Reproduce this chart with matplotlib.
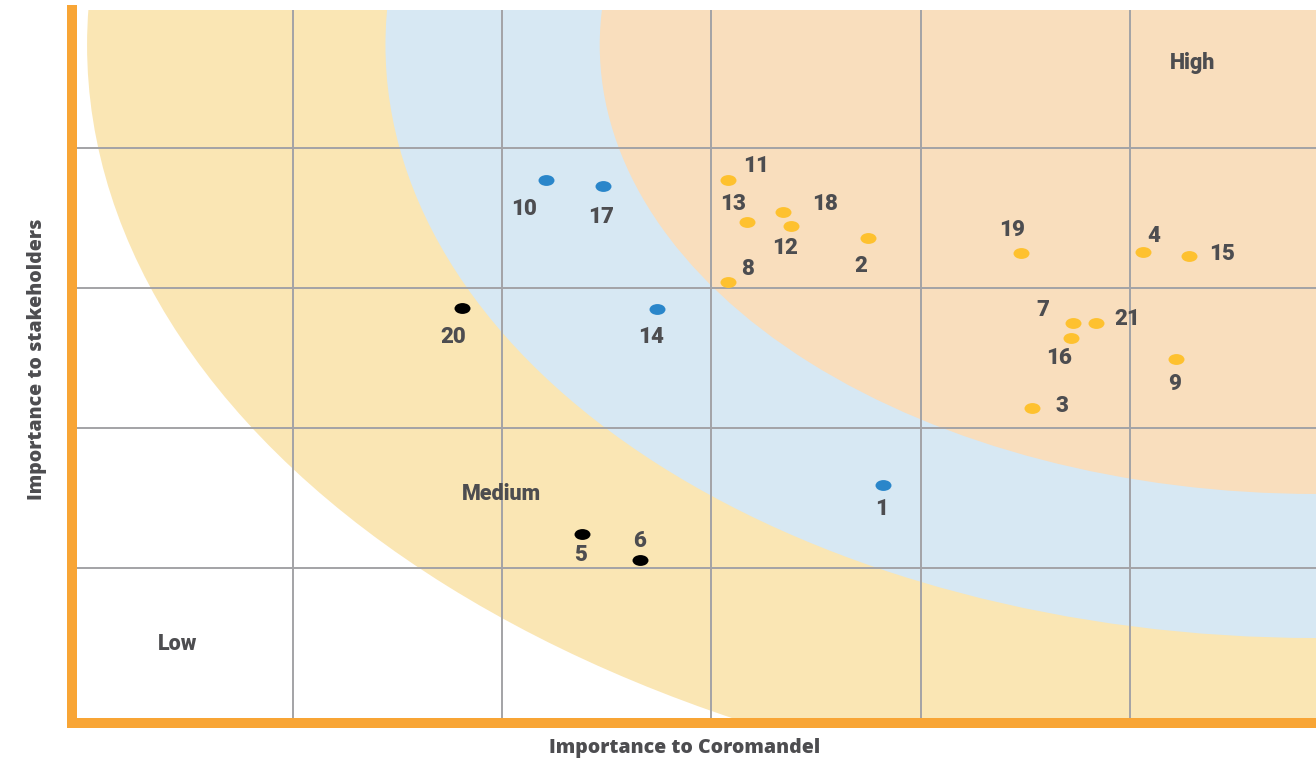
import matplotlib
matplotlib.use("Agg")
import matplotlib.pyplot as plt
from matplotlib.patches import Ellipse
from matplotlib.path import Path
from matplotlib.transforms import Affine2D

# ---- data ----
issue_ids = ["1", "2", "3", "4", "5", "6", "7", "8", "9", "10", "11",
             "12", "13", "14", "15", "16", "17", "18", "19", "20", "21"]
coromandel = [3.82, 3.75, 4.53, 5.06, 2.38, 2.66, 4.73, 3.08, 5.22, 2.21, 3.08,
              3.38, 3.17, 2.74, 5.28, 4.72, 2.48, 3.34, 4.48, 1.81, 4.84]
stakeholders = [1.59, 3.36, 2.14, 3.26, 1.24, 1.06, 2.75, 3.04, 2.49, 3.77, 3.77,
                3.44, 3.47, 2.85, 3.23, 2.64, 3.73, 3.54, 3.25, 2.86, 2.75]
groups = ["blue", "high", "high", "high", "black", "black", "high", "high", "high",
          "blue", "high", "high", "high", "blue", "high", "high", "blue", "high",
          "high", "black", "high"]
zone_names = ["High", "Medium", "Low"]

# label offsets in pixels (dx, dy) from each dot
label_offsets = {
    "1": (-1, -24), "2": (-8, -28), "3": (30, 2), "4": (11, 16), "5": (-1, -21),
    "6": (-1, 19), "7": (-31, 13), "8": (19, 13), "9": (-1, -25), "10": (-22, -29),
    "11": (28, 14), "12": (-6, -22), "13": (-14, 18), "14": (-6, -28), "15": (33, 2),
    "16": (-12, -20), "17": (-2, -31), "18": (42, 8), "19": (-9, 23), "20": (-9, -29),
    "21": (31, 4),
}

dot_colors = {"high": "#FEC12F", "blue": "#2A86CA", "black": "#000000"}
text_color = "#4D4D50"
orange = "#F8A535"

fig = plt.figure(figsize=(13.16, 7.6), dpi=100)
ax = fig.add_axes([72 / 1316, 1 - 723 / 760, 1 - 72 / 1316, (723 - 10) / 760])

x_lo, x_hi = -0.056, 5.889
y_lo, y_hi = -0.107, 4.986
ax.set_xlim(x_lo, x_hi)
ax.set_ylim(y_lo, y_hi)

# concentric bands, centre near the top-right corner
cx, cy = 5.889, 4.736
bands = [(5.873, 5.464, "#FAE6B4"), (4.447, 4.236, "#D7E8F3"), (3.423, 3.207, "#F9DEBD")]
for a, b, col in bands:
    ax.add_patch(Ellipse((cx, cy), 2 * a, 2 * b, facecolor=col, edgecolor="none", zorder=0))

# grid
ax.set_xticks([1, 2, 3, 4, 5])
ax.set_yticks([1, 2, 3, 4])
ax.set_axisbelow(True)
ax.grid(True, color="#A3A3A6", linewidth=1.4)
ax.tick_params(length=0, labelbottom=False, labelleft=False)

for s in ["top", "right"]:
    ax.spines[s].set_visible(False)
for s in ["left", "bottom"]:
    ax.spines[s].set_color(orange)
    ax.spines[s].set_linewidth(7.2)
    ax.spines[s].set_zorder(5)

# ellipse-shaped dot marker
oval = Path.unit_circle().transformed(Affine2D().scale(1, 0.68))

for key, col in dot_colors.items():
    xs = [x for x, g in zip(coromandel, groups) if g == key]
    ys = [y for y, g in zip(stakeholders, groups) if g == key]
    ax.plot(xs, ys, linestyle="none", marker=oval, markersize=11.5,
            markerfacecolor=col, markeredgewidth=0, zorder=4)

for name, x, y in zip(issue_ids, coromandel, stakeholders):
    dx, dy = label_offsets[name]
    ax.annotate(name, (x, y), xytext=(dx, dy), textcoords="offset pixels",
                ha="center", va="center", fontsize=16, fontweight="black",
                family="Roboto", color=text_color, zorder=6)

zone_pos = [(5.30, 4.61), (1.995, 1.53), (0.45, 0.46)]
for name, (x, y) in zip(zone_names, zone_pos):
    ax.text(x, y, name, ha="center", va="center", fontsize=15.5, fontweight="black",
            family="Roboto", color=text_color, zorder=6)

fig.text(685 / 1316, 1 - 748 / 760, "Importance to Coromandel", ha="center", va="center",
         fontsize=14, fontweight="heavy", family="Open Sans", color=text_color)
fig.text(37 / 1316, 1 - 359 / 760, "Importance to stakeholders", ha="center", va="center",
         rotation=90, fontsize=14, fontweight="heavy", family="Open Sans", color=text_color)

fig.savefig("out.png", dpi=100)
